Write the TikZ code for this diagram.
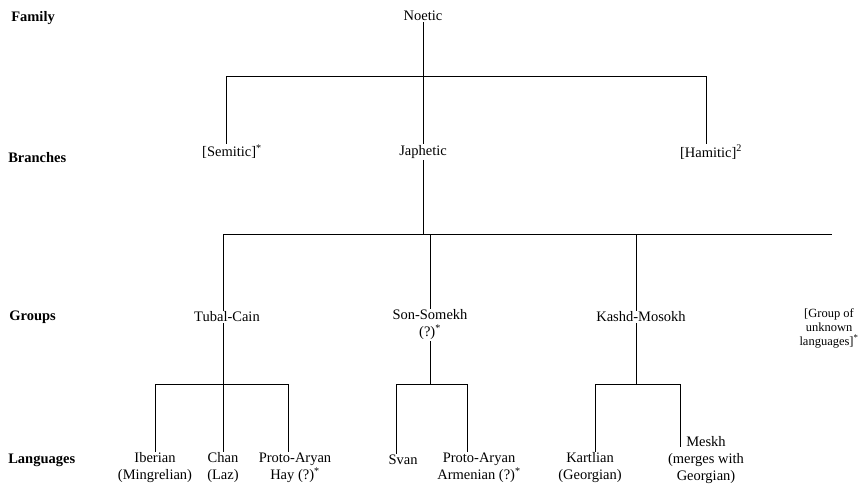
\documentclass[tikz,border=0pt]{standalone}
\usepackage{fontspec}
\setmainfont{Liberation Serif}
\usetikzlibrary{positioning}

\begin{document}
\begin{tikzpicture}[x=1pt,y=-1pt,semithick,
  lang/.style={align=center,inner sep=1pt,font=\fontsize{14.5}{17}\selectfont},
  small/.style={align=center,inner sep=1pt,font=\fontsize{12.5}{14}\selectfont},
  level/.style={anchor=west,inner sep=0pt,font=\fontsize{14.5}{17}\selectfont\bfseries}]
  \useasboundingbox (0,0) rectangle (861,485);
  %levels
  \node[level] (fam) at (11,18) {Family};
  \node[level] (bra) at (8,158) {Branches};
  \node[level] (gro) at (9,317) {Groups};
  \node[level] (lan) at (8,460) {Languages};
  %family and branches
  \node[lang] (noetic) at (423,16) {Noetic};
  \node[lang] (semitic) at (232,152) {[Semitic]\textsuperscript{*}};
  \node[lang] (japhetic) at (423,152) {Japhetic};
  \node[lang] (hamitic) at (711,152) {[Hamitic]\textsuperscript{2}};
  \coordinate (b1) at (226,76);
  \coordinate (b3) at (706,76);
  \draw (noetic) -- (japhetic);
  \draw (semitic.north -| b1) -- (b1) -- (b3) -- (hamitic.north -| b3);
  %groups
  \node[lang] (tubal) at (227,317) {Tubal-Cain};
  \node[lang] (somekh) at (430,325) {Son-Somekh\\(?)\textsuperscript{*}};
  \node[lang] (kashd) at (641,317) {Kashd-Mosokh};
  \node[small] (unknown) at (829,328) {[Group of\\unknown\\languages]\textsuperscript{*}};
  \coordinate (g1) at (223,234);
  \coordinate (g2) at (430,234);
  \coordinate (g3) at (636,234);
  \coordinate (g4) at (832,234);
  \draw (japhetic) -- (japhetic |- g1);
  \draw (g1) -- (g4);
  \draw (g1) -- (g1 |- tubal.north);
  \draw (g2) -- (g2 |- somekh.north);
  \draw (g3) -- (g3 |- kashd.north);
  %languages
  \node[lang] (iberian) at (155,468) {Iberian\\(Mingrelian)};
  \node[lang] (chan) at (223,468) {Chan\\(Laz)};
  \node[lang] (hay) at (295,468) {Proto-Aryan\\Hay (?)\textsuperscript{*}};
  \node[lang] (svan) at (403,460) {Svan};
  \node[lang] (armenian) at (479,468) {Proto-Aryan\\Armenian (?)\textsuperscript{*}};
  \node[lang] (kartlian) at (590,468) {Kartlian\\(Georgian)};
  \node[lang] (meskh) at (706,460) {Meskh\\(merges with\\Georgian)};
  \coordinate (t1) at (155,384);
  \coordinate (t2) at (223,384);
  \coordinate (t3) at (288,384);
  \coordinate (s1) at (396,384);
  \coordinate (s2) at (467,384);
  \coordinate (k1) at (595,384);
  \coordinate (k2) at (636,384);
  \coordinate (k3) at (680,384);
  \draw (tubal.south -| g1) -- (t2);
  \draw (somekh.south -| g2) -- (g2 |- s1);
  \draw (kashd.south -| g3) -- (k2);
  \draw (iberian.north -| t1) -- (t1) -- (t3) -- (hay.north -| t3);
  \draw (t2) -- (chan.north -| t2);
  \draw (svan.north -| s1) -- (s1) -- (s2) -- (armenian.north -| s2);
  \draw (kartlian.north -| k1) -- (k1) -- (k3) -- ([yshift=-12pt]meskh.north -| k3);
\end{tikzpicture}
\end{document}
